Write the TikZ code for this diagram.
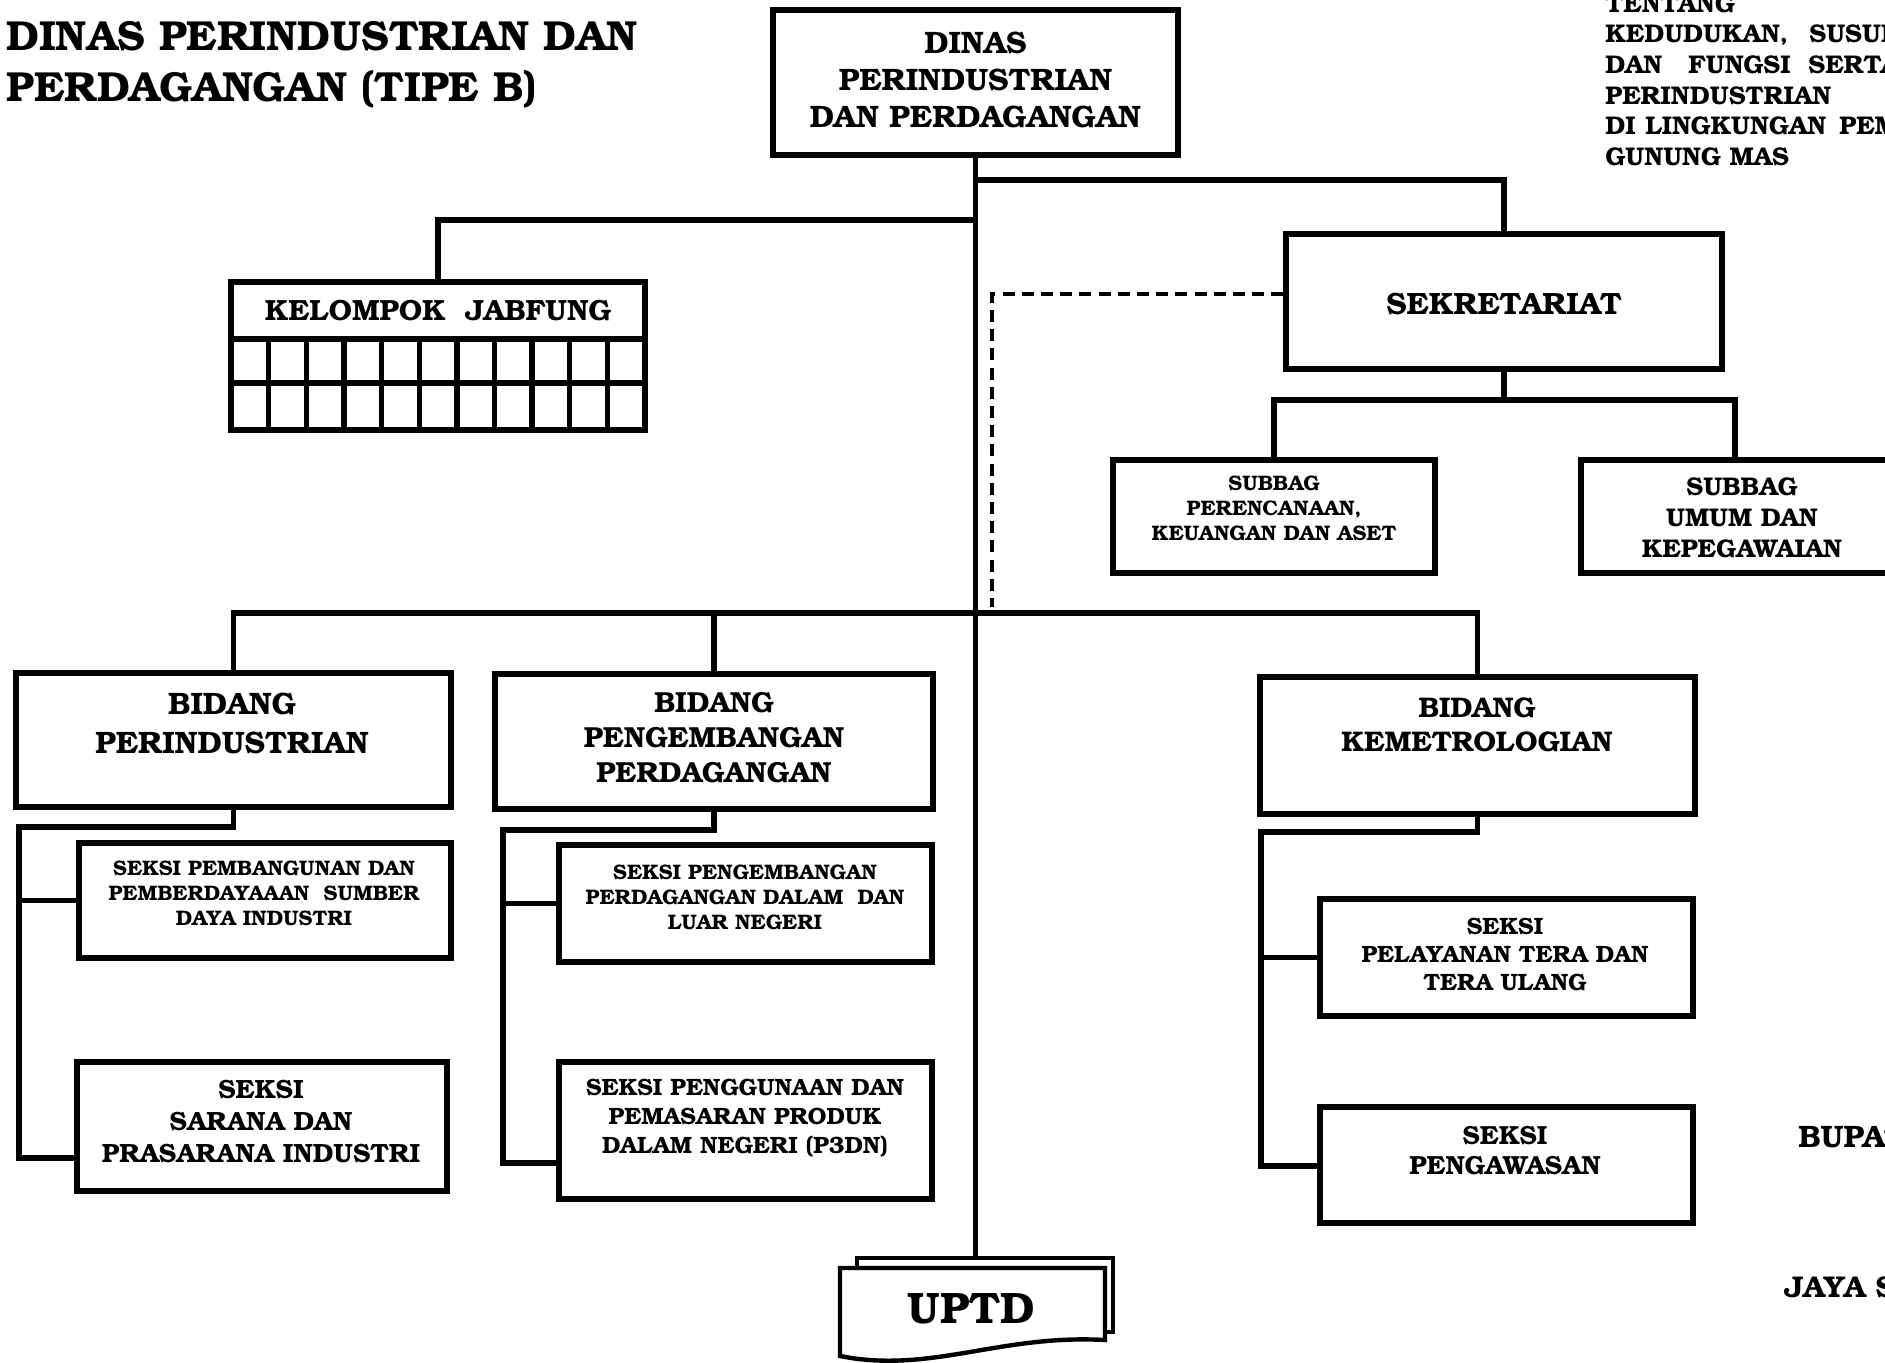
\documentclass[tikz,border=0pt]{standalone}
\usepackage{fontspec}
\setmainfont{texgyrebonum-bold.otf}
\usetikzlibrary{calc}
\newcommand\fsz[2]{\fontsize{#1}{#2}\selectfont}
\tikzset{
  ln/.style={line width=2.7pt},
  dsh/.style={line width=1.6pt, dash pattern=on 6pt off 3.6pt},
  bx/.style={draw, line width=2.7pt, fill=white, inner sep=0pt},
  txt/.style 2 args={inner sep=0pt, align=center, font=\fsz{#1}{#2}},
  lt/.style 2 args={inner sep=0pt, anchor=west, align=left, font=\fsz{#1}{#2}, text depth=0pt, text height={0.68*#1pt}},
}
\begin{document}
\begin{tikzpicture}[x=0.5pt,y=-0.5pt]
\useasboundingbox (0,0) rectangle (1885,1362);
\clip (0,0) rectangle (1885,1362);

% title
\node[lt={21}{25.5}] (title1) at (6,36) {DINAS PERINDUSTRIAN DAN};
\node[lt={21}{25.5}] (title2) at (6,87) {PERDAGANGAN (TIPE B)};

% top right text
\node[lt={12.8}{14.5}] (tr1) at (1605,4) {TENTANG};
\node[lt={12.8}{14.5}] (tr2) at (1605,34) {\makebox[102pt][l]{KEDUDUKAN,}SUSUNAN};
\node[lt={12.8}{14.5}] (tr3) at (1605,65) {\makebox[41.5pt][l]{DAN}\makebox[60pt][l]{FUNGSI}SERTA};
\node[lt={12.8}{14.5}] (tr4) at (1605,96) {PERINDUSTRIAN};
\node[lt={12.8}{14.5}] (tr5) at (1605,126) {\makebox[20pt][l]{DI}\makebox[97pt][l]{LINGKUNGAN}PEMERINTAH};
\node[lt={12.8}{14.5}] (tr6) at (1605,157) {GUNUNG MAS};

% signature fragments
\node[lt={15.5}{18}] (bup) at (1798,1137) {BUPATI GUNUNG MAS,};
\node[lt={15}{18}] (jaya) at (1784,1287) {JAYA S. MONONG};

% boxes
\node[bx, minimum width=202.5pt, minimum height=72.5pt] (dinas) at (975.5,82.5) {};
\node[bx, minimum width=207pt, minimum height=74pt] (jab) at (438,356) {};
\node[bx, minimum width=218pt, minimum height=67.5pt] (sek) at (1504,301.5) {};
\node[bx, minimum width=161pt, minimum height=56.5pt] (sub1) at (1274,516.5) {};
\node[bx, minimum width=161pt, minimum height=56.5pt] (sub2) at (1742,516.5) {};
\node[bx, minimum width=217.5pt, minimum height=67pt] (bid1) at (233.5,740) {};
\node[bx, minimum width=219pt, minimum height=67.5pt] (bid2) at (714,741.5) {};
\node[bx, minimum width=217.5pt, minimum height=68.5pt] (bid3) at (1477.5,745.5) {};
\node[bx, minimum width=186pt, minimum height=57.5pt] (s11) at (265,900.5) {};
\node[bx, minimum width=185pt, minimum height=64.5pt] (s12) at (262,1126.5) {};
\node[bx, minimum width=186.5pt, minimum height=58.5pt] (s21) at (745.5,903.5) {};
\node[bx, minimum width=186.5pt, minimum height=68.5pt] (s22) at (745.5,1130.5) {};
\node[bx, minimum width=186.5pt, minimum height=58.5pt] (s31) at (1506.5,957.5) {};
\node[bx, minimum width=186.5pt, minimum height=58pt] (s32) at (1506.5,1165) {};

% jabfung grid
\draw[ln] (jab.west |- 0,339) -- (jab.east |- 0,339);
\draw[ln] (jab.west |- 0,383) -- (jab.east |- 0,383);
\foreach \k in {1,...,10} \draw[ln] ({231+\k*37.64},339) -- ({231+\k*37.64},430);

% box texts
\node[txt={15.5}{18.5}] (dinast) at (975.5,79.5) {DINAS\\PERINDUSTRIAN\\DAN PERDAGANGAN};
\node[txt={14.6}{17}] (jabt) at (438,311) {KELOMPOK\ \ JABFUNG};
\node[txt={15.4}{18}] (sekt) at (1504,304) {SEKRETARIAT};
\node[txt={10.5}{12.5}] (sub1t) at (1274,508.5) {SUBBAG\\PERENCANAAN,\\KEUANGAN DAN ASET};
\node[txt={12.8}{15.5}] (sub2t) at (1742,517.5) {SUBBAG\\UMUM DAN\\KEPEGAWAIAN};
\node[txt={15.5}{19.5}] (bid1t) at (232,723.5) {BIDANG\\PERINDUSTRIAN};
\node[txt={14.5}{17.5}] (bid2t) at (714,738) {BIDANG\\PENGEMBANGAN\\PERDAGANGAN};
\node[txt={14.2}{17}] (bid3t) at (1477,725) {BIDANG\\KEMETROLOGIAN};
\node[txt={10.5}{12.5}] (s11t) at (264,893) {SEKSI PEMBANGUNAN DAN\\PEMBERDAYAAAN\ \ SUMBER\\DAYA INDUSTRI};
\node[txt={13.2}{15.8}] (s12t) at (261,1121.5) {SEKSI\\SARANA DAN\\PRASARANA INDUSTRI};
\node[txt={10.5}{12.5}] (s21t) at (745,897) {SEKSI PENGEMBANGAN\\PERDAGANGAN DALAM\ \ DAN\\LUAR NEGERI};
\node[txt={11.8}{14.5}] (s22t) at (745,1118) {SEKSI PENGGUNAAN DAN\\PEMASARAN PRODUK\\DALAM NEGERI (P3DN)};
\node[txt={11.8}{13.8}] (s31t) at (1505,954.5) {SEKSI\\PELAYANAN TERA DAN\\TERA ULANG};
\node[txt={13.1}{15}] (s32t) at (1505,1151) {SEKSI\\PENGAWASAN};

% UPTD
\node[draw, line width=2.2pt, fill=white, minimum width=128pt, minimum height=37pt, inner sep=0pt] (uptdb) at (985,1295) {};
\draw[line width=2.2pt, fill=white] (840,1268) -- (1105,1268) -- (1105,1340) .. controls (1000,1334) and (930,1374) .. (840,1356) -- cycle;
\node[txt={22}{24}] (uptd) at (971,1309) {UPTD};

% trunk coordinates
\coordinate (t1) at (975.5,180);
\coordinate (t2) at (975.5,220);
\coordinate (hl) at (232,613);
\coordinate (hr) at (1477.5,613);
\coordinate (sj) at (1504,400);
\coordinate (s2top) at (1735,460);
\coordinate (dend) at (992,607);
\coordinate (b1a) at (19,827);
\coordinate (b1b) at (19,1158);
\coordinate (b2a) at (503,830);
\coordinate (b2b) at (503,1163);
\coordinate (b3a) at (1261,832);
\coordinate (b3b) at (1261,1166);

% connectors
\draw[ln] (dinas.south) -- (uptdb.north -| dinas.south);
\draw[ln] (t1) -| (sek.north);
\draw[ln] (t2) -| (jab.north);
\draw[dsh] ($(sek.west)+(0,-7.5)$) -| (dend);
\draw[ln] (sek.south) -- (sj);
\draw[ln] (sub1.north) |- (sj) -| (s2top);
\draw[ln] (bid1.north) -- (bid1.north |- hl) -- (hr) -- (bid3.north);
\draw[ln] (bid2.north) -- (bid2.north |- hl);
\draw[ln] (bid1.south) |- (b1a) -- (b1b) -- (b1b -| s12.west);
\draw[ln] (b1a |- s11.west) -- (s11.west);
\draw[ln] (bid2.south) |- (b2a) -- (b2b) -- (b2b -| s22.west);
\draw[ln] (b2a |- s21.west) -- (s21.west);
\draw[ln] (bid3.south) |- (b3a) -- (b3b) -- (b3b -| s32.west);
\draw[ln] (b3a |- s31.west) -- (s31.west);
\end{tikzpicture}
\end{document}
